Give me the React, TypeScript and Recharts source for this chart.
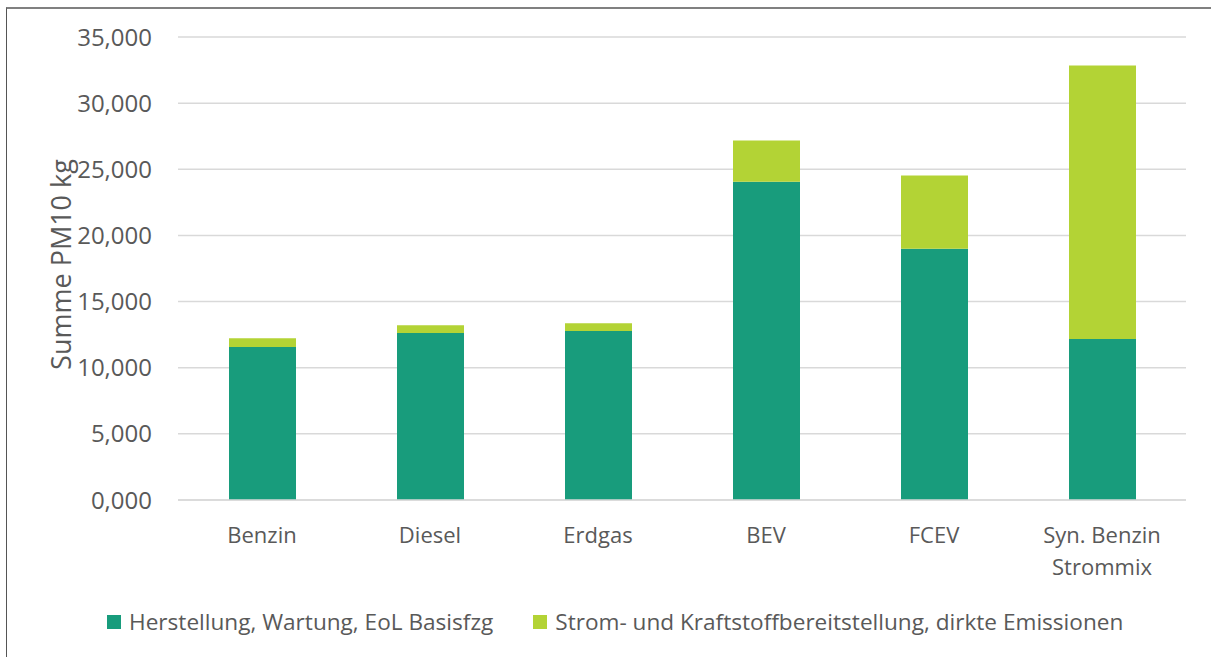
import { BarChart, Bar, XAxis, YAxis, CartesianGrid } from 'recharts';

const categories = ['Benzin', 'Diesel', 'Erdgas', 'BEV', 'FCEV', 'Syn. Benzin\nStrommix'];
const herstellung = [11.57, 12.63, 12.78, 24.05, 19.0, 12.17];
const bereitstellung = [0.66, 0.58, 0.58, 3.12, 5.53, 20.68];
const yTicks = [0, 5, 10, 15, 20, 25, 30, 35];

const seriesNames = [
   'Herstellung, Wartung, EoL Basisfzg',
   'Strom- und Kraftstoffbereitstellung, dirkte Emissionen',
];
const colors = ['#189c7c', '#b3d335'];

const data = categories.map((name, i) => ({
   name,
   herstellung: herstellung[i],
   bereitstellung: bereitstellung[i],
}));

const FONT = '"Open Sans", "Noto Sans", sans-serif';
const TEXT = '#595959';

function CategoryTick({ x, y, payload }: any) {
   const lines = String(payload.value).split('\n');
   return (
      <text x={x} y={y} textAnchor="middle" fill={TEXT} fontSize={22} fontFamily={FONT}>
         {lines.map((l, i) => (
            <tspan key={i} x={x} dy={i === 0 ? 16 : 32}>
               {l}
            </tspan>
         ))}
      </text>
   );
}

function ChartLegend() {
   return (
      <div
         style={{
            position: 'absolute',
            left: 107,
            top: 606,
            display: 'flex',
            alignItems: 'center',
            fontFamily: FONT,
            fontSize: 22.6,
            color: TEXT,
            whiteSpace: 'nowrap',
            lineHeight: '32px',
         }}
      >
         {seriesNames.map((s, i) => (
            <div key={s} style={{ display: 'flex', alignItems: 'center', marginRight: 40 }}>
               <span style={{ width: 14, height: 14, background: colors[i], marginRight: 8, display: 'inline-block' }} />
               <span>{s}</span>
            </div>
         ))}
      </div>
   );
}

export default function App() {
   return (
      <div style={{ position: 'absolute', left: 0, top: 0, width: 1211, height: 657, overflow: 'hidden', background: '#fff' }}>
         <div
            style={{
               position: 'absolute',
               left: 6,
               top: 7,
               width: 1300,
               height: 700,
               borderTop: '2px solid #808080',
               borderLeft: '1px solid #555',
            }}
         />
         <div style={{ position: 'absolute', left: 0, top: 0 }}>
            <BarChart width={1211} height={657} data={data} margin={{ top: 37, right: 25, bottom: 127, left: 0 }}>
               <CartesianGrid vertical={false} stroke="#d9d9d9" strokeWidth={1.5} />
               <XAxis
                  dataKey="name"
                  height={30}
                  tick={<CategoryTick />}
                  tickLine={false}
                  tickSize={0}
                  tickMargin={27}
                  axisLine={{ stroke: '#d9d9d9', strokeWidth: 1.5 }}
                  interval={0}
               />
               <YAxis
                  width={178}
                  domain={[0, 35]}
                  ticks={yTicks}
                  tickFormatter={(v: number) => v.toFixed(3).replace('.', ',')}
                  tick={{ fill: TEXT, fontSize: 24, fontFamily: FONT }}
                  tickLine={false}
                  tickSize={0}
                  tickMargin={26}
                  axisLine={false}
                  label={{
                     value: 'Summe PM10 kg',
                     angle: -90,
                     position: 'insideLeft',
                     offset: 0,
                     dx: 61,
                     dy: -4,
                     style: { fill: TEXT, fontSize: 27, fontFamily: FONT, textAnchor: 'middle' },
                  }}
               />
               <Bar dataKey="herstellung" name={seriesNames[0]} stackId="a" fill={colors[0]} barSize={67} isAnimationActive={false} />
               <Bar dataKey="bereitstellung" name={seriesNames[1]} stackId="a" fill={colors[1]} barSize={67} isAnimationActive={false} />
            </BarChart>
         </div>
         <ChartLegend />
      </div>
   );
}
